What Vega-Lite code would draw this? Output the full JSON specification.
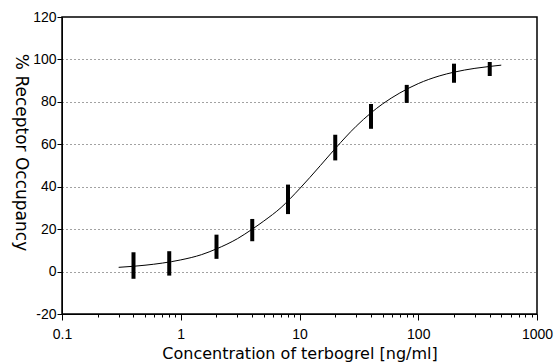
{
  "$schema": "https://vega.github.io/schema/vega-lite/v6.json",
  "width": 475,
  "height": 297,
  "autosize": {"type": "none"},
  "padding": {"left": 62, "top": 17, "right": 23, "bottom": 50},
  "background": "white",
  "config": {
    "view": {"stroke": "black", "strokeWidth": 1.5},
    "font": "Liberation Sans",
    "axis": {
      "domainColor": "black",
      "tickColor": "black",
      "labelColor": "black",
      "titleColor": "black",
      "labelFont": "Liberation Sans",
      "titleFont": "DejaVu Sans",
      "labelFontSize": 14,
      "titleFontSize": 16,
      "titleFontWeight": "normal"
    }
  },
  "datasets": {
    "curve": [
      {"conc": 0.3, "occ": 2.0},
      {"conc": 0.4, "occ": 2.5},
      {"conc": 0.5, "occ": 3.0},
      {"conc": 0.7, "occ": 4.0},
      {"conc": 1, "occ": 5.5},
      {"conc": 1.5, "occ": 8.0},
      {"conc": 2, "occ": 10.7},
      {"conc": 3, "occ": 15.5},
      {"conc": 4, "occ": 20.0},
      {"conc": 5, "occ": 23.8},
      {"conc": 7, "occ": 30.2},
      {"conc": 10, "occ": 39.0},
      {"conc": 15, "occ": 50.0},
      {"conc": 20, "occ": 58.0},
      {"conc": 30, "occ": 68.5},
      {"conc": 40, "occ": 74.8},
      {"conc": 50, "occ": 79.0},
      {"conc": 70, "occ": 84.2},
      {"conc": 100, "occ": 88.6},
      {"conc": 150, "occ": 92.2},
      {"conc": 200, "occ": 94.0},
      {"conc": 300, "occ": 95.8},
      {"conc": 400, "occ": 96.7},
      {"conc": 500, "occ": 97.3}
    ],
    "points": [
      {"conc": 0.4, "lo": -3.4, "hi": 9.1},
      {"conc": 0.8, "lo": -1.9, "hi": 9.6},
      {"conc": 2, "lo": 6.0, "hi": 17.4},
      {"conc": 4, "lo": 14.3, "hi": 24.8},
      {"conc": 8, "lo": 27.1, "hi": 41.0},
      {"conc": 20, "lo": 52.4, "hi": 64.5},
      {"conc": 40, "lo": 67.3, "hi": 79.0},
      {"conc": 80, "lo": 79.5, "hi": 88.0},
      {"conc": 200, "lo": 89.0, "hi": 98.0},
      {"conc": 400, "lo": 92.2, "hi": 98.8}
    ]
  },
  "layer": [
    {
      "data": {"name": "curve"},
      "mark": {"type": "line", "color": "black", "strokeWidth": 1, "interpolate": "monotone"},
      "encoding": {
        "x": {
          "field": "conc",
          "type": "quantitative",
          "scale": {"type": "log", "domain": [0.1, 1000]},
          "axis": {
            "title": "Concentration of terbogrel  [ng/ml]",
            "values": [0.1, 0.2, 0.3, 0.4, 0.5, 0.6, 0.7, 0.8, 0.9, 1, 2, 3, 4, 5, 6, 7, 8, 9, 10, 20, 30, 40, 50, 60, 70, 80, 90, 100, 200, 300, 400, 500, 600, 700, 800, 900, 1000],
            "labelExpr": "abs(log(datum.value)/LN10 - round(log(datum.value)/LN10)) < 0.001 ? format(datum.value, '~g') : ''",
            "tickSize": {"condition": {"test": "abs(log(datum.value)/LN10 - round(log(datum.value)/LN10)) < 0.001", "value": 6}, "value": 3},
            "labelPadding": 7,
            "labelDx": 3,
            "labelFlush": false,
            "labelOverlap": false,
            "grid": false,
            "titleY": 31,
            "titleBaseline": "top"
          }
        },
        "y": {
          "field": "occ",
          "type": "quantitative",
          "scale": {"domain": [-20, 120], "nice": false},
          "axis": {
            "title": "% Receptor Occupancy",
            "values": [-20, -10, 0, 10, 20, 30, 40, 50, 60, 70, 80, 90, 100, 110, 120],
            "labelExpr": "datum.value % 20 == 0 ? '' + datum.value : ''",
            "tickSize": {"condition": {"test": "datum.value % 20 == 0", "value": 5}, "value": 3},
            "labelPadding": 1,
            "labelOverlap": false,
            "labelFlush": false,
            "grid": true,
            "gridColor": "#444444",
            "gridDash": [1, 3],
            "gridWidth": 1,
            "gridOpacity": {"condition": {"test": "datum.value % 20 != 0 || datum.value == 120 || datum.value == -20", "value": 0}, "value": 1},
            "titleAngle": 90,
            "titleFontSize": 17,
            "titleX": -42,
            "titleY": 135,
            "titleAlign": "center",
            "titleBaseline": "middle"
          }
        }
      }
    },
    {
      "data": {"name": "points"},
      "mark": {"type": "rule", "color": "black", "strokeWidth": 4},
      "encoding": {
        "x": {"field": "conc", "type": "quantitative"},
        "y": {"field": "lo", "type": "quantitative"},
        "y2": {"field": "hi"}
      }
    }
  ]
}
